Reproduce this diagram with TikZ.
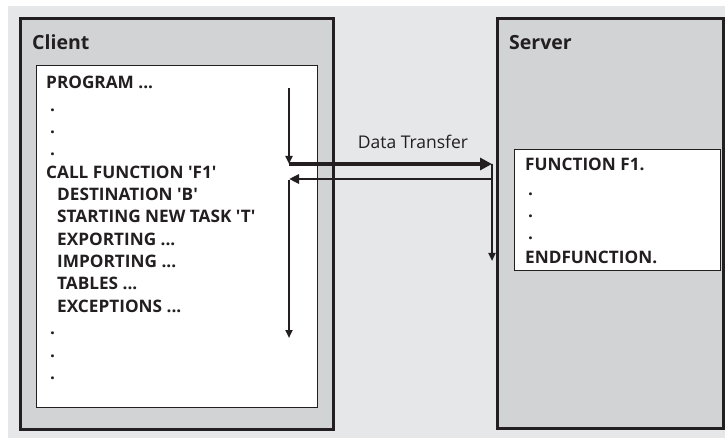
\documentclass[tikz,border=0pt]{standalone}
\usepackage{fontspec}
\setmainfont{Open Sans}[Ligatures=TeXOff]
\usetikzlibrary{arrows.meta}
\definecolor{bggray}{RGB}{230,231,232}
\definecolor{boxgray}{RGB}{209,211,212}
\definecolor{ink}{RGB}{35,31,32}
\tikzset{
  outerbox/.style={draw=ink, line width=3pt, fill=boxgray},
  innerbox/.style={draw=ink, line width=0.8pt, fill=white},
  boxtitle/.style={anchor=base west, inner sep=0pt, font=\bfseries\fontsize{19.5}{19.5}\selectfont, text=ink},
  codeline/.style={anchor=base west, inner sep=0pt, font=\bfseries\fontsize{17.2}{17.2}\selectfont, text=ink},
  flow/.style={draw=ink, line width=2pt, -{Triangle[length=8pt,width=7pt]}},
  bigflow/.style={draw=ink, line width=4pt, -{Triangle[length=12pt,width=12pt]}},
  backflow/.style={draw=ink, line width=2.5pt, -{Triangle[length=10pt,width=9pt]}}
}
\begin{document}
\begin{tikzpicture}[x=1pt,y=-1pt]% client / server call
	\useasboundingbox (0,0) rectangle (725,438);
	\fill[bggray] (8,6) rectangle (725,438);
	% client side
	\draw[outerbox] (20,19) rectangle (333,429);
	\draw[innerbox] (36,65) rectangle (317,407);
	\node[boxtitle] (client) at (32,50) {Client};
	\node[codeline] (program) at (46,89) {PROGRAM ...};
	\node[codeline] (dota) at (50,112) {.};
	\node[codeline] (dotb) at (50,134) {.};
	\node[codeline] (dotc) at (50,156) {.};
	\node[codeline] (call) at (46,179) {CALL FUNCTION 'F1'};
	\node[codeline] (dest) at (57,201) {DESTINATION 'B'};
	\node[codeline] (task) at (57,223) {STARTING NEW TASK 'T'};
	\node[codeline] (exp) at (57,246) {EXPORTING ...};
	\node[codeline] (imp) at (57,268) {IMPORTING ...};
	\node[codeline] (tab) at (57,290) {TABLES ...};
	\node[codeline] (exc) at (57,312) {EXCEPTIONS ...};
	\node[codeline] (dotd) at (50,334) {.};
	\node[codeline] (dote) at (50,357) {.};
	\node[codeline] (dotf) at (50,379) {.};
	% server side
	\draw[outerbox] (497,19) rectangle (723,428);
	\draw[innerbox] (514,149) rectangle (720,270);
	\node[boxtitle] (server) at (509,50) {Server};
	\node[codeline] (func) at (525,171) {FUNCTION F1.};
	\node[codeline] (sdota) at (528,196) {.};
	\node[codeline] (sdotb) at (528,218) {.};
	\node[codeline] (sdotc) at (528,240) {.};
	\node[codeline] (endfunc) at (525,263) {ENDFUNCTION.};
	% flow of control
	\coordinate (runtop) at (289,88);
	\coordinate (callpt) at (289,164);
	\coordinate (backpt) at (289,179);
	\coordinate (runend) at (289,338);
	\coordinate (sendpt) at (492,164);
	\coordinate (retpt) at (492,179);
	\coordinate (srvend) at (492,261);
	\draw[flow] (runtop) -- (callpt);
	\draw[bigflow] (callpt) -- (sendpt);
	\draw[backflow] (retpt) -- (backpt);
	\draw[flow] ([yshift=-1pt]backpt) -- (runend);
	\draw[flow] (sendpt) -- (srvend);
	\node[anchor=base, inner sep=0pt, font=\fontsize{17.5}{17.5}\selectfont, text=ink] (transfer) at (413,149) {Data Transfer};
\end{tikzpicture}
\end{document}
